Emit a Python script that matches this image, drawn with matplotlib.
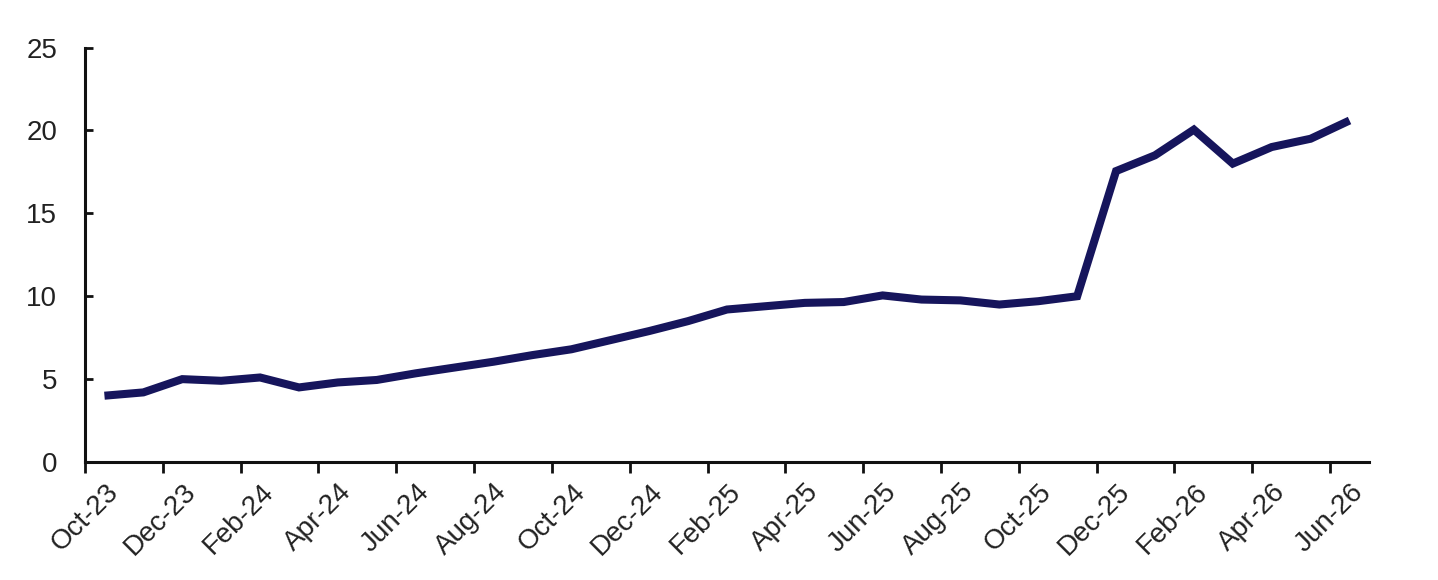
import matplotlib
matplotlib.use("Agg")
from matplotlib import pyplot as plt
from matplotlib.transforms import ScaledTranslation

months = [
    "Oct-23", "Nov-23", "Dec-23", "Jan-24", "Feb-24", "Mar-24", "Apr-24",
    "May-24", "Jun-24", "Jul-24", "Aug-24", "Sep-24", "Oct-24", "Nov-24",
    "Dec-24", "Jan-25", "Feb-25", "Mar-25", "Apr-25", "May-25", "Jun-25",
    "Jul-25", "Aug-25", "Sep-25", "Oct-25", "Nov-25", "Dec-25", "Jan-26",
    "Feb-26", "Mar-26", "Apr-26", "May-26", "Jun-26",
]
values = [
    4.0, 4.2, 5.0, 4.9, 5.1, 4.5, 4.8, 4.95, 5.35, 5.7, 6.05, 6.45, 6.8,
    7.35, 7.9, 8.5, 9.2, 9.4, 9.6, 9.65, 10.05, 9.8, 9.75, 9.5, 9.7, 10.0,
    17.55, 18.5, 20.05, 18.0, 19.0, 19.5, 20.6,
]
y_ticks = [0, 5, 10, 15, 20, 25]

plt.rcParams["font.family"] = ["Liberation Sans", "DejaVu Sans"]

fig = plt.figure(figsize=(14.38, 5.8), dpi=100)
ax = fig.add_axes([0.0591, 0.2034, 0.8929, 0.7146])

# points sit in the middle of each month slot, ticks on slot edges
xs = [i + 0.5 for i in range(len(values))]
ax.plot(xs, values, color="#16155c", linewidth=5.8, solid_joinstyle="miter",
        solid_capstyle="butt")

ax.set_xlim(0, len(months))
ax.set_ylim(0, 25)
ax.set_yticks(y_ticks)
ax.set_yticklabels([str(v) for v in y_ticks])
ax.set_xticks(range(0, len(months), 2))
ax.set_xticklabels(months[::2], rotation=45, ha="right", va="top",
                   rotation_mode="anchor")

for side in ["top", "right"]:
    ax.spines[side].set_visible(False)
for side in ["left", "bottom"]:
    ax.spines[side].set_linewidth(2.2)
    ax.spines[side].set_color("#111111")

ax.tick_params(axis="y", direction="in", length=6, width=2, pad=20,
               labelsize=20, labelcolor="#222222", colors="#111111")
ax.tick_params(axis="x", direction="out", length=8, width=2, pad=4,
               labelsize=20, labelcolor="#222222", colors="#111111")

shift = ScaledTranslation(20 / 100, 0, fig.dpi_scale_trans)
for lbl in ax.get_xticklabels():
    lbl.set_transform(lbl.get_transform() + shift)

fig.savefig("out.png", dpi=100)
